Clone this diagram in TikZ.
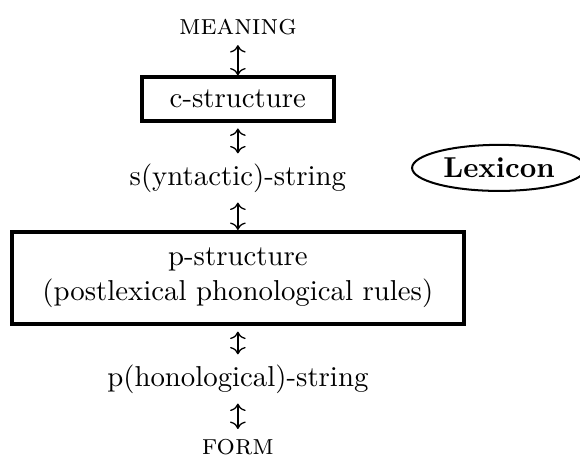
\documentclass[tikz,border=0pt]{standalone}
\usetikzlibrary{arrows.meta,positioning,shapes.geometric}

\begin{document}
\begin{tikzpicture}[
    node distance=2cm, on grid,
    stage/.style={draw, line width=1.4pt, align=center, inner sep=0pt},
    lex/.style={draw, ellipse, line width=0.7pt, inner sep=0pt, minimum width=60.4pt, minimum height=16pt, font=\bfseries},
    arr/.style={{To}-{To}, line width=0.45pt}
  ]
    \useasboundingbox (0,0) rectangle (201.4pt,-160.4pt);
    \node (mng) at (82.6pt,-9.4pt) {\textsc{meaning}};
    \node[stage, minimum width=66.5pt, minimum height=15pt, below=25pt of mng] (cs) {c-structure};
    \node[below=27.4pt of cs] (ss) {s(yntactic)-string};
    \node[stage, minimum width=157pt, minimum height=31.9pt, below=34.7pt of ss] (ps) {p-structure\\(postlexical phonological rules)};
    \node[below=35.1pt of ps] (pstr) {p(honological)-string};
    \node[below=23.6pt of pstr] (frm) {\textsc{form}};
    \node[lex, right=90.7pt of ss, yshift=3.5pt] (lex) {Lexicon};
    \draw[arr] (mng) -- (cs);
    \draw[arr, shorten <=2pt] (cs) -- (ss);
    \draw[arr] (ss) -- (ps);
    \draw[arr, shorten <=2pt] (ps) -- (pstr);
    \draw[arr] (pstr) -- (frm);
  \end{tikzpicture}
\end{document}
